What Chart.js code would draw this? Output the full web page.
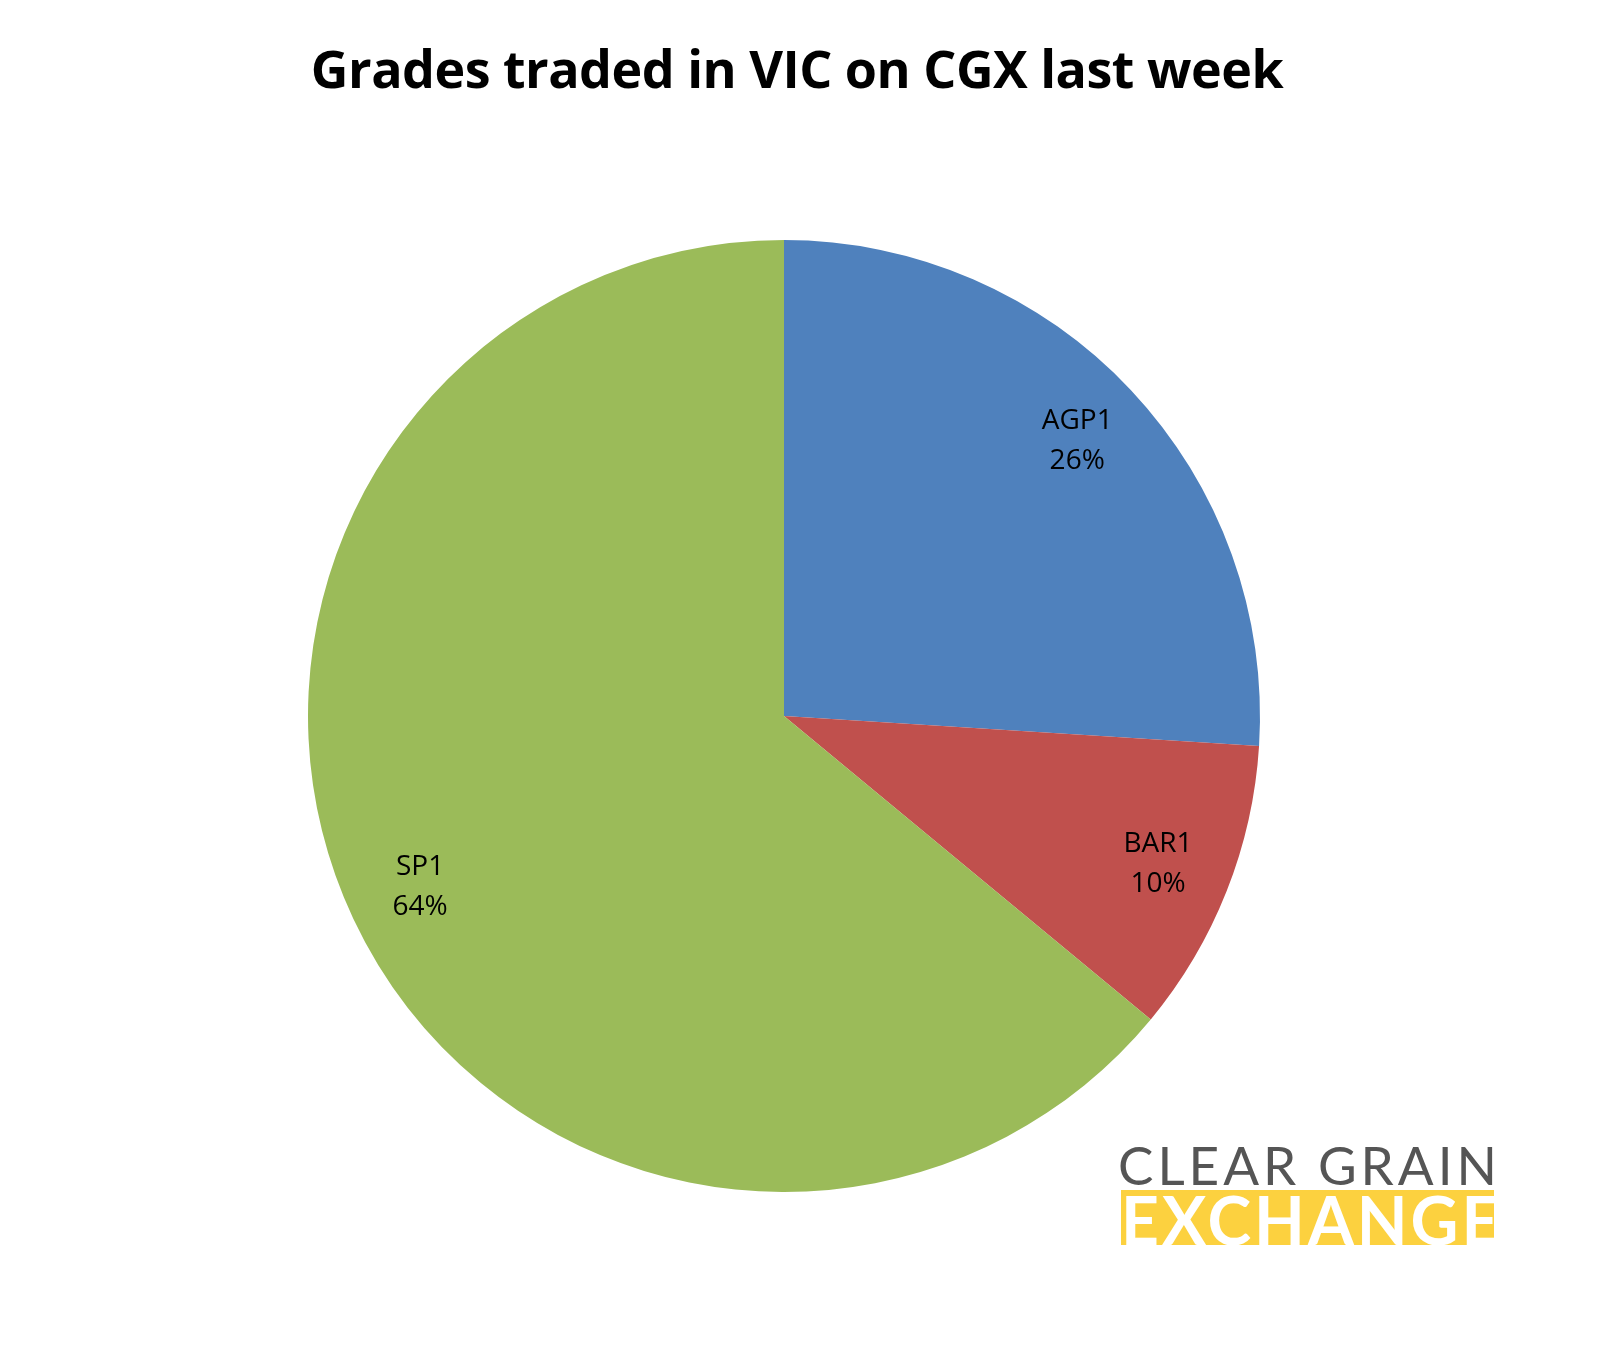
<!DOCTYPE html>
<html>
<head>
<meta charset="utf-8">
<script src="https://cdn.jsdelivr.net/npm/chart.js@4"></script>
<style>
body{margin:0;background:#fff;}
#wrap{position:relative;width:1608px;height:1350px;}
#title{position:absolute;top:32px;left:0;width:1594px;text-align:center;font:bold 52px "Open Sans",sans-serif;color:#000;letter-spacing:-0.5px;}
#logo1{position:absolute;left:1118px;top:1133px;font:400 53px "Lato",sans-serif;color:#555;letter-spacing:4px;}
#logo2{position:absolute;left:1121px;top:1190px;width:373px;height:55px;background:#fcd13f;overflow:hidden;}
#logo2 span{position:absolute;left:0;top:-10px;font:bold 66px "Lato",sans-serif;color:#fff;letter-spacing:3px;}
</style>
</head>
<body>
<div id="wrap">
<canvas id="myChart" width="1608" height="1350"></canvas>
<div id="title">Grades traded in VIC on CGX last week</div>
<div id="logo1">CLEAR GRAIN</div>
<div id="logo2"><span>EXCHANGE</span></div>
</div>
<script>
var grades=['SP1','AGP1','BAR1'];
var shares=[64,26,10];
var colours=['#9bbb59','#4f81bd','#c0504d'];
// draw order clockwise from top: AGP1, BAR1, SP1
var order=[1,2,0];

var labelPlugin={
    id:'sliceLabels',
    afterDatasetsDraw(chart){
        var ctx=chart.ctx;
        var meta=chart.getDatasetMeta(0);
        ctx.save();
        ctx.font='28px "Open Sans", sans-serif';
        ctx.fillStyle='#000';
        ctx.textAlign='center';
        ctx.textBaseline='middle';
        meta.data.forEach(function(arc,i){
            var mid=(arc.startAngle+arc.endAngle)/2;
            var r=arc.outerRadius*0.845;
            var x=arc.x+Math.cos(mid)*r, y=arc.y+Math.sin(mid)*r;
            var idx=order[i];
            ctx.fillText(grades[idx],x,y-20);
            ctx.fillText(shares[idx]+'%',x,y+20);
        });
        ctx.restore();
    }
};

new Chart(document.getElementById('myChart').getContext('2d'),{
    type:'pie',
    data:{
        labels:order.map(function(i){return grades[i];}),
        datasets:[{
            data:order.map(function(i){return shares[i];}),
            backgroundColor:order.map(function(i){return colours[i];}),
            borderWidth:0
        }]
    },
    options:{
        responsive:false,
        animation:false,
        layout:{padding:{top:240,bottom:158,left:308,right:348}},
        plugins:{legend:{display:false},tooltip:{enabled:false}}
    },
    plugins:[labelPlugin]
});
</script>
</body>
</html>
